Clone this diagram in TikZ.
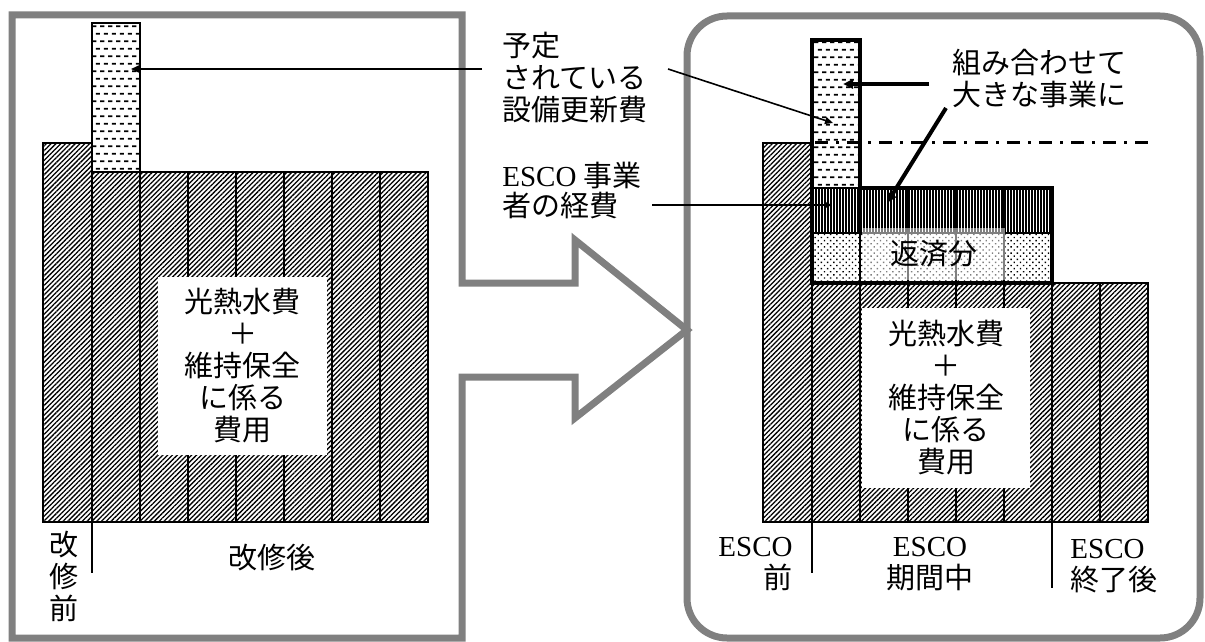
\documentclass[tikz,border=0pt]{standalone}
\usepackage{fontspec}
\setmainfont{Liberation Serif}
\newfontfamily\jp{Noto Sans CJK JP}
\usetikzlibrary{patterns,patterns.meta,arrows.meta}
\pgfdeclarepatternformonly{hdash}{\pgfqpoint{0pt}{0pt}}{\pgfqpoint{4.2pt}{7.7pt}}{\pgfqpoint{4.2pt}{7.7pt}}{%
  \pgfsetlinewidth{0.9pt}%
  \pgfpathmoveto{\pgfqpoint{0pt}{1.9pt}}\pgfpathlineto{\pgfqpoint{2.4pt}{1.9pt}}%
  \pgfpathmoveto{\pgfqpoint{2.1pt}{5.8pt}}\pgfpathlineto{\pgfqpoint{4.2pt}{5.8pt}}%
  \pgfusepath{stroke}}
\newcommand{\esco}{{\rmfamily ESCO}}
\tikzset{
  hatch/.style={draw, line width=0.6pt, pattern={Lines[angle=45,distance=1.7pt,line width=0.65pt]}},
  vlines/.style={draw, line width=0.6pt, pattern={Lines[angle=90,distance=1.5pt,line width=0.55pt]}},
  dotfill/.style={draw, line width=0.6pt, pattern={Dots[angle=45,distance=2.2pt,radius=0.5pt]}},
  dashfill/.style={draw, line width=0.6pt, pattern=hdash},
  grayframe/.style={draw=gray, line width=3.5pt, line join=miter},
  txt/.style={font=\jp\fontsize{14.5}{16}\selectfont, inner sep=0pt},
  arr/.style={-{Triangle[length=4pt,width=3.5pt]}, line width=0.8pt},
  bigarr/.style={-{Triangle[length=5pt,width=4.5pt]}, line width=2pt},
}

\begin{document}
\begin{tikzpicture}[x=0.5pt,y=-0.5pt]
  \useasboundingbox (0,0) rectangle (1205,642);
  \draw[grayframe] (12,15) -- (462,15) -- (462,283) -- (575,283) -- (575,240) -- (687,330)
    -- (575,418) -- (575,377) -- (462,377) -- (462,638) -- (12,638) -- cycle;
  \draw[grayframe, rounded corners=20pt] (687,16) rectangle (1200,638);

  \draw[hatch] (43,143) rectangle (92,522);
  \foreach \i in {0,...,6} \draw[hatch] (92+48*\i,172) rectangle (140+48*\i,522);
  \draw[dashfill] (92,23) rectangle (140,172);
  \node[txt, fill=white, minimum width=84.5pt, minimum height=89pt, align=center] (costL) at (242.5,366)
    {光熱水費\\＋\\維持保全\\に係る\\費用};
  \draw[line width=1pt] (92,522) -- (92,573);
  \node[txt, align=center] (preL) at (64,576) {改\\修\\前};
  \node[txt] (postL) at (272,558) {改修後};

  \draw[hatch] (763,143) rectangle (812,522);
  \foreach \i in {0,...,6} \draw[hatch] (812+48*\i,283) rectangle (860+48*\i,522);
  \foreach \i in {0,...,4} {
    \draw[vlines] (812+48*\i,188) rectangle (860+48*\i,233);
    \draw[dotfill] (812+48*\i,233) rectangle (860+48*\i,283);
  }
  \draw[dashfill] (812,40) rectangle (860,188);
  \node[txt, fill=white, fill opacity=0.5, text opacity=1, minimum width=71.5pt, minimum height=26pt] (repay) at (933.5,254) {返済分};
  \draw[line width=2pt] (812,40) -- (860,40) -- (860,188) -- (1052,188) -- (1052,283) -- (812,283) -- cycle;
  \draw[line width=1.5pt, dash pattern=on 6.5pt off 4pt on 1.5pt off 4pt] (815,143) -- (1155,143);
  \node[txt, fill=white, minimum width=84pt, minimum height=90pt, align=center] (costR) at (946,398)
    {光熱水費\\＋\\維持保全\\に係る\\費用};
  \draw[line width=1pt] (812,522) -- (812,573);
  \draw[line width=1pt] (1052,522) -- (1052,588);
  \node[txt, align=right, anchor=east] (escoPre) at (793,564) {\esco\\前};
  \node[txt, align=center] (escoMid) at (930,564) {\esco\\期間中};
  \node[txt, align=left, anchor=west] (escoPost) at (1070,566) {\esco\\終了後};

  \node[txt, align=left, anchor=west] (plan) at (502,78) {予定\\されている\\設備更新費};
  \node[txt, align=left, anchor=west, font=\jp\fontsize{14.5}{15}\selectfont] (cost) at (502,191) {\esco\ 事業\\者の経費};
  \node[txt, align=left, anchor=west] (combine) at (952,79) {組み合わせて\\大きな事業に};

  \coordinate (planA) at (482,69);
  \coordinate (planB) at (668,69);
  \coordinate (costA) at (652,205);
  \coordinate (combA) at (929,84);
  \coordinate (combB) at (946,108);
  \coordinate (oldUp) at (131,69);
  \coordinate (newUp) at (833,123);
  \coordinate (newCost) at (832,205);
  \coordinate (combUp) at (843,84);
  \coordinate (combCost) at (887,203);
  \draw[arr] (planA) -- (oldUp);
  \draw[arr] (planB) -- (newUp);
  \draw[arr] (costA) -- (newCost);
  \draw[bigarr] (combA) -- (combUp);
  \draw[bigarr] (combB) -- (combCost);
\end{tikzpicture}
\end{document}
